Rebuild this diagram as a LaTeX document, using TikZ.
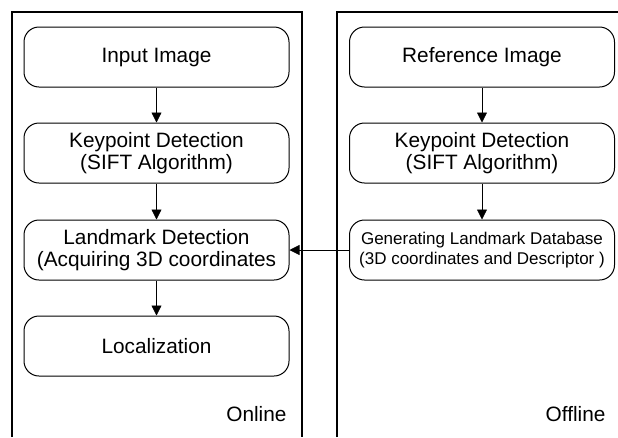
\documentclass[tikz,border=0pt]{standalone}
\usepackage{fontspec}
\setmainfont{Liberation Sans}
\usetikzlibrary{arrows.meta}
\tikzset{
  stage/.style={draw, line width=1pt, rounded corners=15pt, align=center,
    minimum width=265pt, minimum height=60pt, inner sep=2pt,
    font=\fontsize{20.8}{22}\selectfont},
  smallstage/.style={stage, font=\fontsize{17}{20}\selectfont},
  flow/.style={line width=0.8pt, -{Triangle[length=10pt,width=10pt]}},
  lane/.style={line width=1.2pt},
  lanename/.style={anchor=base east, font=\fontsize{20.8}{22}\selectfont}
}
\begin{document}
\begin{tikzpicture}[x=1pt,y=-1pt]
  \useasboundingbox (0,0) rectangle (618,437);
  % lanes
  \draw[lane] (12,437) -- (12,12) -- (302,12) -- (302,437);
  \draw[lane] (337,437) -- (337,12) -- (618,12);
  \node[lanename] (online) at (290,421) {Online};
  \node[lanename] (offline) at (609,421) {Offline};
  % online stages
  \node[stage] (input) at (156.5,57) {Input Image};
  \node[stage] (kpon) at (156.5,153) {Keypoint Detection\\(SIFT Algorithm)};
  \node[stage] (landmark) at (156.5,250) {Landmark Detection\\(Acquiring 3D coordinates};
  \node[stage] (local) at (156.5,346) {Localization};
  % offline stages
  \node[stage] (refimg) at (482,57) {Reference Image};
  \node[stage] (kpoff) at (482,153) {Keypoint Detection\\(SIFT Algorithm)};
  \node[smallstage] (database) at (482,250) {Generating Landmark Database\\(3D coordinates and Descriptor )};
  % connectors
  \draw[flow] (input) -- (kpon);
  \draw[flow] (kpon) -- (landmark);
  \draw[flow] (landmark) -- (local);
  \draw[flow] (refimg) -- (kpoff);
  \draw[flow] (kpoff) -- (database);
  \draw[flow] (database) -- (landmark);
\end{tikzpicture}
\end{document}
